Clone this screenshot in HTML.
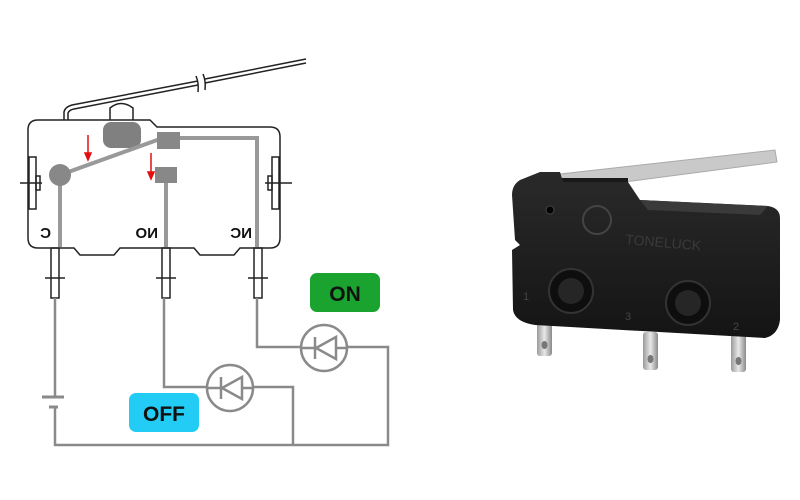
<!DOCTYPE html>
<html><head><meta charset="utf-8"><style>
html,body{margin:0;padding:0;background:#fff;width:800px;height:500px;overflow:hidden}
svg{display:block}
</style></head><body>
<svg width="800" height="500" viewBox="0 0 800 500" xmlns="http://www.w3.org/2000/svg">
<defs>
<linearGradient id="bd" x1="0" y1="0" x2="0" y2="1"><stop offset="0" stop-color="#2a2a2a"/><stop offset="1" stop-color="#141414"/></linearGradient>
<linearGradient id="pn" x1="0" y1="0" x2="1" y2="0"><stop offset="0" stop-color="#9a9a9a"/><stop offset=".5" stop-color="#e8e8e8"/><stop offset="1" stop-color="#8a8a8a"/></linearGradient>
</defs>
<g fill="none" stroke="#222" stroke-width="1.5">
<path d="M64 120 L64 112 Q65 107 72 105 L198 81"/>
<path d="M68 120 L68 113 Q69 110 74 109 L198 85"/>
<path d="M205 79 L306 59"/><path d="M205 83 L306 63"/>
<path d="M196 76 Q199 83 198 92"/><path d="M203 74 Q206 81 205 90"/>
<path d="M110 120 L110 108 Q121 99 133 108 L133 120"/>
<path d="M38 120 L150 120 L157 127 L270 127 Q280 127 280 137 L280 238 Q280 248 270 248 L240 248 L234 255 L200 255 L194 248 L120 248 L114 255 L80 255 L74 248 L38 248 Q28 248 28 238 L28 130 Q28 120 38 120 Z"/>
<rect x="29" y="157" width="7" height="52"/><rect x="36" y="176" width="4" height="14"/>
<rect x="272" y="157" width="7" height="52"/><rect x="268" y="176" width="4" height="14"/>
<path d="M20 183 L42 183 M265 183 L292 183"/>
<rect x="51" y="248" width="8" height="50"/><rect x="162" y="248" width="8" height="50"/><rect x="254" y="248" width="8" height="50"/>
<path d="M45 278 L65 278 M156 278 L176 278 M248 278 L268 278"/>
</g>
<rect x="103" y="122" width="38" height="26" rx="8" fill="#808080"/>
<g stroke="#999" stroke-width="4" fill="none">
<path d="M60 175 L160 139"/>
<path d="M178 138 L257 138 L257 247"/>
<path d="M166 176 L166 247"/>
<path d="M60 175 L60 247"/>
</g>
<circle cx="60" cy="175" r="11" fill="#888"/>
<rect x="157" y="132" width="23" height="17" fill="#888"/>
<rect x="155" y="167" width="22" height="16" fill="#888"/>
<g stroke="#e01010" stroke-width="1.5" fill="#e01010">
<path d="M88 135 L88 155"/><path d="M85 153 L91 153 L88 160 Z"/>
<path d="M151 153 L151 174"/><path d="M148 172 L154 172 L151 179 Z"/>
</g>
<g font-family="Liberation Sans,sans-serif" font-weight="bold" font-size="15" fill="#111">
<text transform="translate(51 238) scale(-1 1)">C</text>
<text transform="translate(158 238) scale(-1 1)">NO</text>
<text transform="translate(252 238) scale(-1 1)">NC</text>
</g>
<g stroke="#8a8a8a" stroke-width="2.5" fill="none">
<path d="M55 298 L55 397 M55 407 L55 445 L388 445 L388 347 L347 347"/>
<path d="M42 397 L64 397 M49 407 L58 407" stroke-width="3"/>
<path d="M164 298 L164 387 L207 387"/>
<path d="M253 387 L293 387 L293 445"/>
<path d="M257 298 L257 347 L301 347"/>
<circle cx="230" cy="388" r="23"/>
<circle cx="324" cy="348" r="23"/>
<path d="M221 377 L221 399 M242 377 L242 399 L222 388 Z"/>
<path d="M315 337 L315 359 M336 337 L336 359 L316 348 Z"/>
<path d="M207 388 L221 388 M242 388 L253 388 M301 348 L315 348 M336 348 L347 348"/>
</g>
<rect x="310" y="273" width="70" height="39" rx="7" fill="#1aa32e"/>
<text x="345" y="301" text-anchor="middle" font-family="Liberation Sans,sans-serif" font-weight="bold" font-size="21" fill="#111">ON</text>
<rect x="129" y="393" width="70" height="39" rx="7" fill="#22ccf5"/>
<text x="164" y="421" text-anchor="middle" font-family="Liberation Sans,sans-serif" font-weight="bold" font-size="21" fill="#111">OFF</text>
<path d="M560 174 L775 150 L777 162 L563 190 Z" fill="#c9c9c9" stroke="#aaa"/>
<rect x="558" y="178" width="70" height="16" fill="#1a1a1a"/>
<rect x="537" y="318" width="15" height="38" rx="3" fill="url(#pn)"/>
<rect x="643" y="332" width="15" height="38" rx="3" fill="url(#pn)"/>
<rect x="731" y="330" width="15" height="42" rx="3" fill="url(#pn)"/>
<g fill="#777"><ellipse cx="544.5" cy="345" rx="3" ry="4"/><ellipse cx="650.5" cy="359" rx="3" ry="4"/><ellipse cx="738.5" cy="361" rx="3" ry="4"/></g>
<path d="M520 180 L540 172 L560 172 L563 182 L628 182 L640 200 L768 206 Q780 208 780 218 L780 320 Q778 335 765 338 L535 325 Q515 322 513 310 L512 250 L520 245 L515 240 L512 195 Q512 185 520 180 Z" fill="url(#bd)"/>
<path d="M640 200 L768 206 L760 215 L648 210 Z" fill="#3a3a3a"/>
<circle cx="571" cy="291" r="22" fill="#0e0e0e" stroke="#333" stroke-width="2"/>
<circle cx="571" cy="291" r="13" fill="#262626"/>
<circle cx="688" cy="303" r="22" fill="#0e0e0e" stroke="#333" stroke-width="2"/>
<circle cx="688" cy="303" r="13" fill="#262626"/>
<circle cx="550" cy="210" r="4" fill="#000" stroke="#444"/>
<circle cx="597" cy="220" r="14" fill="none" stroke="#444" stroke-width="2"/>
<text x="625" y="244" font-family="Liberation Sans,sans-serif" font-size="14" fill="#3a3a3a" transform="rotate(5 625 244)">TONELUCK</text>
<text x="523" y="300" font-family="Liberation Sans,sans-serif" font-size="11" fill="#444">1</text>
<text x="625" y="320" font-family="Liberation Sans,sans-serif" font-size="11" fill="#444">3</text>
<text x="733" y="330" font-family="Liberation Sans,sans-serif" font-size="11" fill="#444">2</text>
</svg>
</body></html>
